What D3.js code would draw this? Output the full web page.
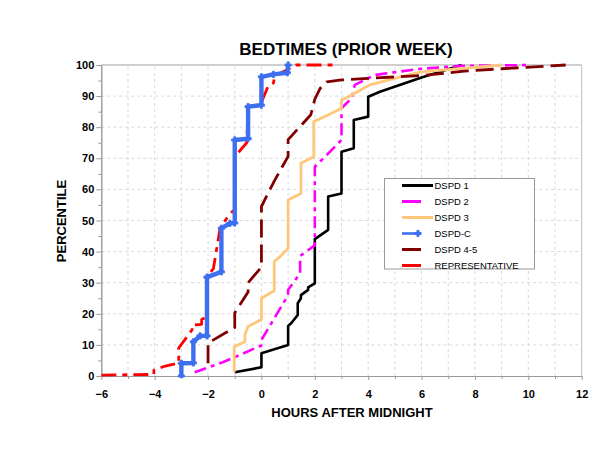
<!DOCTYPE html>
<html>
<head>
<meta charset="utf-8">
<script src="https://cdn.jsdelivr.net/npm/d3@7"></script>
<style>
  html, body { margin: 0; padding: 0; background: #fff; }
  svg { display: block; font-family: "Liberation Sans", Arial, sans-serif; }
</style>
</head>
<body>
<svg id="chart" width="600" height="451"></svg>
<script>
// ---------- DATA ----------
const xTickValues = [-6, -4, -2, 0, 2, 4, 6, 8, 10, 12];
const xMinorTicks = [-5, -3, -1, 1, 3, 5, 7, 9, 11];
const yTickValues = [0, 10, 20, 30, 40, 50, 60, 70, 80, 90, 100];
const yMinorTicks = [5, 15, 25, 35, 45, 55, 65, 75, 85, 95];
const xGrid = [-5, -4, -3, -2, -1, 0, 1, 2, 3, 4, 5, 6, 7, 8, 9, 10, 11];
const yGrid = [10, 20, 30, 40, 50, 60, 70, 80, 90];

const seriesNames = ["DSPD 1", "DSPD 2", "DSPD 3", "DSPD-C", "DSPD 4-5", "REPRESENTATIVE"];

const dspd1 = [[-1, 1.2], [0, 2.8], [0, 7.3], [1, 10], [1, 16.1], [1.13, 17.1], [1.36, 19.6], [1.36, 23.4],
  [1.48, 25], [1.48, 26], [1.75, 27.7], [1.75, 28.5], [2, 29.8], [2, 44], [2.5, 47], [2.5, 57.7],
  [3, 58.7], [3, 72.1], [3.46, 73.2], [3.46, 82.3], [4, 83.4], [4, 89.8], [4.44, 91.4], [6, 96], [7.5, 100]];

const dspd2 = [[-2.5, 1.2], [-1.45, 4.4], [0, 9.8], [0, 11.6], [1, 26], [1, 27.7], [1.45, 33], [1.45, 38.6],
  [2, 42], [2, 67.3], [2.44, 71], [3, 75.9], [3, 86.1], [3.38, 89.3], [3.5, 93.6], [4.25, 96.8],
  [5.9, 98.7], [7.4, 99.7], [10.1, 100]];

const dspd3 = [[-1.02, 1.2], [-1.02, 9.4], [-0.62, 11], [-0.62, 13.2], [-0.5, 15.9], [0, 18.2], [0, 25],
  [0.48, 27.4], [0.48, 36.8], [0.7, 38.4], [1, 41], [1, 56.6], [1.48, 58.7], [1.48, 68.4], [1.96, 70.5],
  [1.96, 81.8], [2.5, 83.9], [3, 86.1], [3, 88.7], [3.5, 90.9], [4.06, 93.6], [5.2, 96.2], [6, 97.8], [9, 100]];

const dspdC = [[-3, 0], [-3, 4.1], [-2.55, 4.2], [-2.55, 11], [-2.3, 12.9], [-2.04, 12.9], [-2.04, 31.8],
  [-1.5, 33.5], [-1.5, 47.5], [-1.18, 49.1], [-1, 49.2], [-1, 75.9], [-0.5, 76.3], [-0.5, 86.6],
  [0, 87.1], [0, 96.2], [0.45, 97], [0.97, 97.5], [1, 100]];

const dspd45 = [[-2, 4.1], [-2, 10.6], [-1, 15.6], [-1, 20.3], [-0.5, 27], [-0.5, 30], [-0.25, 32.5],
  [0, 35], [0, 54.5], [0.5, 63], [1, 70.6], [1, 76], [1.85, 84], [2, 89], [2.2, 92.5], [2.45, 94.6],
  [3, 95.2], [4, 95.7], [6, 96.6], [7.6, 98], [9, 98.8], [11.4, 100]];

const representative = [[-6, 0.3], [-4.03, 0.5], [-4.03, 1.9], [-3.6, 3.2], [-3.1, 4.2], [-3.1, 9],
  [-2.6, 14.8], [-2.6, 16.4], [-2.24, 16.6], [-2.24, 18.2], [-2.04, 19], [-2.04, 32], [-1.8, 34.5],
  [-1.55, 47.5], [-1.3, 50.7], [-1.1, 52.8], [-1, 53.3], [-1, 70.5], [-0.8, 72.5], [-0.55, 75],
  [-0.5, 86.5], [-0.2, 87], [0, 88], [0.25, 93.2], [0.45, 94.2], [0.5, 96.5], [0.95, 98.4],
  [1.3, 100], [2.8, 100]];

// ---------- STYLES ----------
const styles = [
  { data: dspd1, color: "#000000", width: 2.6, dash: null, legendDash: null, order: 0 },
  { data: dspd2, color: "#FF00FF", width: 2.6, dash: "12,5,4,5", legendDash: "19,40", order: 1 },
  { data: dspd3, color: "#FFC77A", width: 2.8, dash: null, legendDash: null, order: 2 },
  { data: dspdC, color: "#3D6FF0", width: 4.4, dash: null, legendDash: "19,40", markers: true, order: 5 },
  { data: dspd45, color: "#800000", width: 2.8, dash: "18,7", legendDash: "19,40", order: 3 },
  { data: representative, color: "#FF0000", width: 2.8, dash: "15,6,5,6", legendDash: "19,40", order: 4 }
];

// ---------- CHART ----------
const svg = d3.select("#chart");
const x = d3.scaleLinear().domain([-6, 12]).range([101.3, 581.7]);
const y = d3.scaleLinear().domain([0, 100]).range([376, 65]);

// grid
const grid = svg.append("g");
grid.selectAll("line.vg").data(xGrid).join("line")
  .attr("x1", d => x(d)).attr("x2", d => x(d))
  .attr("y1", y(0)).attr("y2", y(100))
  .attr("stroke", "#d9d9d9").attr("stroke-width", 1).attr("stroke-dasharray", "3,3");
grid.selectAll("line.hg").data(yGrid).join("line")
  .attr("x1", x(-6)).attr("x2", x(12))
  .attr("y1", d => y(d)).attr("y2", d => y(d))
  .attr("stroke", "#d9d9d9").attr("stroke-width", 1).attr("stroke-dasharray", "3,3");

// top and right borders
svg.append("line").attr("x1", x(-6)).attr("x2", x(12)).attr("y1", y(100)).attr("y2", y(100))
  .attr("stroke", "#cfcfcf").attr("stroke-width", 2);
svg.append("line").attr("x1", x(12)).attr("x2", x(12)).attr("y1", y(100)).attr("y2", y(0))
  .attr("stroke", "#bdbdbd").attr("stroke-width", 1);

// axes
function styleAxis(g) {
  g.select(".domain").attr("stroke", "#999");
  g.selectAll(".tick line").attr("stroke", "#999");
  g.selectAll(".tick text").attr("fill", "#000").attr("font-size", 11).attr("font-weight", "bold")
    .attr("font-family", "'Liberation Sans', Arial, sans-serif");
}
const yAxis = svg.append("g").attr("transform", `translate(${x(-6)},0)`)
  .call(d3.axisLeft(y).tickValues(yTickValues).tickSize(5).tickSizeOuter(0).tickPadding(2).tickFormat(d3.format("d")));
styleAxis(yAxis);
const yMinor = svg.append("g").attr("transform", `translate(${x(-6)},0)`)
  .call(d3.axisLeft(y).tickValues(yMinorTicks).tickSize(3).tickSizeOuter(0).tickFormat(""));
styleAxis(yMinor);

const xAxis = svg.append("g").attr("transform", `translate(0,${y(0)})`)
  .call(d3.axisBottom(x).tickValues(xTickValues).tickSize(4).tickSizeOuter(0).tickPadding(10).tickFormat(d3.format("d")));
styleAxis(xAxis);
const xMinor = svg.append("g").attr("transform", `translate(0,${y(0)})`)
  .call(d3.axisBottom(x).tickValues(xMinorTicks).tickSize(3).tickSizeOuter(0).tickFormat(""));
styleAxis(xMinor);

// clip
svg.append("clipPath").attr("id", "plotclip").append("rect")
  .attr("x", x(-6)).attr("y", y(100) - 4).attr("width", x(12) - x(-6) + 2).attr("height", y(0) - y(100) + 6);

const line = d3.line().x(d => x(d[0])).y(d => y(d[1]));
const plot = svg.append("g").attr("clip-path", "url(#plotclip)");

styles.slice().sort((a, b) => a.order - b.order).forEach(s => {
  plot.append("path").datum(s.data)
    .attr("d", line)
    .attr("fill", "none")
    .attr("stroke", s.color)
    .attr("stroke-width", s.width)
    .attr("stroke-linejoin", "round")
    .attr("stroke-dasharray", s.dash);
  if (s.markers) {
    plot.selectAll(null).data(s.data).join("path")
      .attr("transform", d => `translate(${x(d[0])},${y(d[1])})`)
      .attr("d", d3.symbol().type(d3.symbolCross).size(22))
      .attr("fill", s.color).attr("stroke", s.color).attr("stroke-width", 0.8);
  }
});

// titles
svg.append("text").attr("x", 346).attr("y", 55).attr("text-anchor", "middle")
  .attr("font-size", 17).attr("font-weight", "bold").text("BEDTIMES (PRIOR WEEK)");
svg.append("text").attr("x", 352).attr("y", 417).attr("text-anchor", "middle")
  .attr("font-size", 13).attr("font-weight", "bold").text("HOURS AFTER MIDNIGHT");
svg.append("text").attr("transform", "translate(66,221) rotate(-90)").attr("text-anchor", "middle")
  .attr("font-size", 13).attr("font-weight", "bold").text("PERCENTILE");

// legend
const lg = svg.append("g");
lg.append("rect").attr("x", 384.5).attr("y", 178.5).attr("width", 150).attr("height", 90.5)
  .attr("fill", "#fff").attr("stroke", "#9a9a9a").attr("stroke-width", 1);
styles.forEach((s, i) => {
  const cy = 185.5 + i * 16;
  lg.append("line").attr("x1", 402).attr("x2", 433).attr("y1", cy).attr("y2", cy)
    .attr("stroke", s.color).attr("stroke-width", s.markers ? 2.6 : 3)
    .attr("stroke-dasharray", s.legendDash);
  if (s.markers) {
    lg.append("path").attr("transform", `translate(418,${cy})`)
      .attr("d", d3.symbol().type(d3.symbolCross).size(22))
      .attr("fill", s.color).attr("stroke", s.color).attr("stroke-width", 0.8);
  }
  lg.append("text").attr("x", 434.5).attr("y", cy + 3.4).attr("font-size", 9.5)
    .attr("fill", "#000").text(seriesNames[i]);
});
</script>
</body>
</html>
